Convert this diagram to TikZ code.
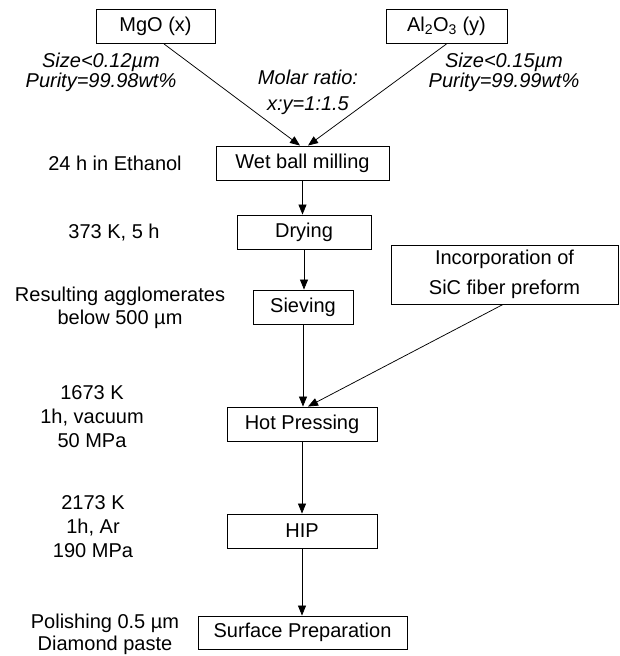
\documentclass[tikz,border=0pt]{standalone}
\usepackage{fontspec}
\setmainfont{Liberation Sans}
\usetikzlibrary{arrows.meta}
\begin{document}
\begin{tikzpicture}[x=1pt,y=-1pt,
  box/.style={draw, line width=0.9pt, minimum height=34pt, inner sep=0pt, font=\fontsize{20}{24}\selectfont},
  lbl/.style={align=center, inner sep=0pt, font=\fontsize{20}{24}\selectfont},
  ilbl/.style={align=center, inner sep=0pt, font=\fontsize{20}{24}\selectfont\itshape},
  arr/.style={-{Triangle[length=10pt,width=8pt]}, line width=0.75pt}]
\useasboundingbox (0,0) rectangle (620,656);
% boxes
\node[box, minimum width=119pt] (mgo) at (155.5,26.5) {MgO (x)};
\node[box, minimum width=121pt] (al) at (446.5,26.5) {Al\textsubscript{2}O\textsubscript{3} (y)};
\node[box, minimum width=173pt] (wbm) at (302.5,163) {Wet ball milling};
\node[box, minimum width=134pt] (dry) at (304,232) {Drying};
\node[box, minimum width=100pt] (siev) at (303,307) {Sieving};
\node[box, minimum width=227pt, minimum height=59pt, align=center] (inc) at (504.5,274.5) {Incorporation of\\[6pt]SiC fiber preform};
\node[box, minimum width=150pt] (hp) at (302,424) {Hot Pressing};
\node[box, minimum width=150pt] (hip) at (302,531) {HIP};
\node[box, minimum width=209pt, minimum height=33pt] (surf) at (302.5,632.5) {Surface Preparation};
% labels
\node[ilbl] (l1) at (101,72) {Size<0.12µm\\[-4pt]Purity=99.98wt\%};
\node[ilbl] (l2) at (308,92) {Molar ratio:\\[2pt]x:y=1:1.5};
\node[ilbl] (l3) at (504,72) {Size<0.15µm\\[-4pt]Purity=99.99wt\%};
\node[lbl] (l4) at (115,163) {24 h in Ethanol};
\node[lbl] (l5) at (114,233) {373 K, 5 h};
\node[lbl] (l6) at (120,308) {Resulting agglomerates\\[-1pt]below 500 µm};
\node[lbl] (l7) at (92,417) {1673 K\\1h, vacuum\\50 MPa};
\node[lbl] (l8) at (93,527) {2173 K\\1h, Ar\\190 MPa};
\node[lbl] (l9) at (105,634) {Polishing 0.5 µm\\[-2pt]Diamond paste};
% connectors
\draw[arr] ([xshift=8.5pt]mgo.south) -- ([xshift=-2.5pt]wbm.north);
\draw[arr] (al.south) -- ([xshift=5.5pt]wbm.north);
\draw[arr] (wbm.south) -- (wbm.south |- dry.north);
\draw[arr] (dry.south) -- (dry.south |- siev.north);
\draw[arr] (siev.south) -- (siev.south |- hp.north);
\draw[arr] ([xshift=-1.5pt]inc.south) -- ([xshift=6pt]hp.north);
\draw[arr] (hp.south) -- (hip.north);
\draw[arr] (hip.south) -- (hip.south |- surf.north);
\end{tikzpicture}
\end{document}
